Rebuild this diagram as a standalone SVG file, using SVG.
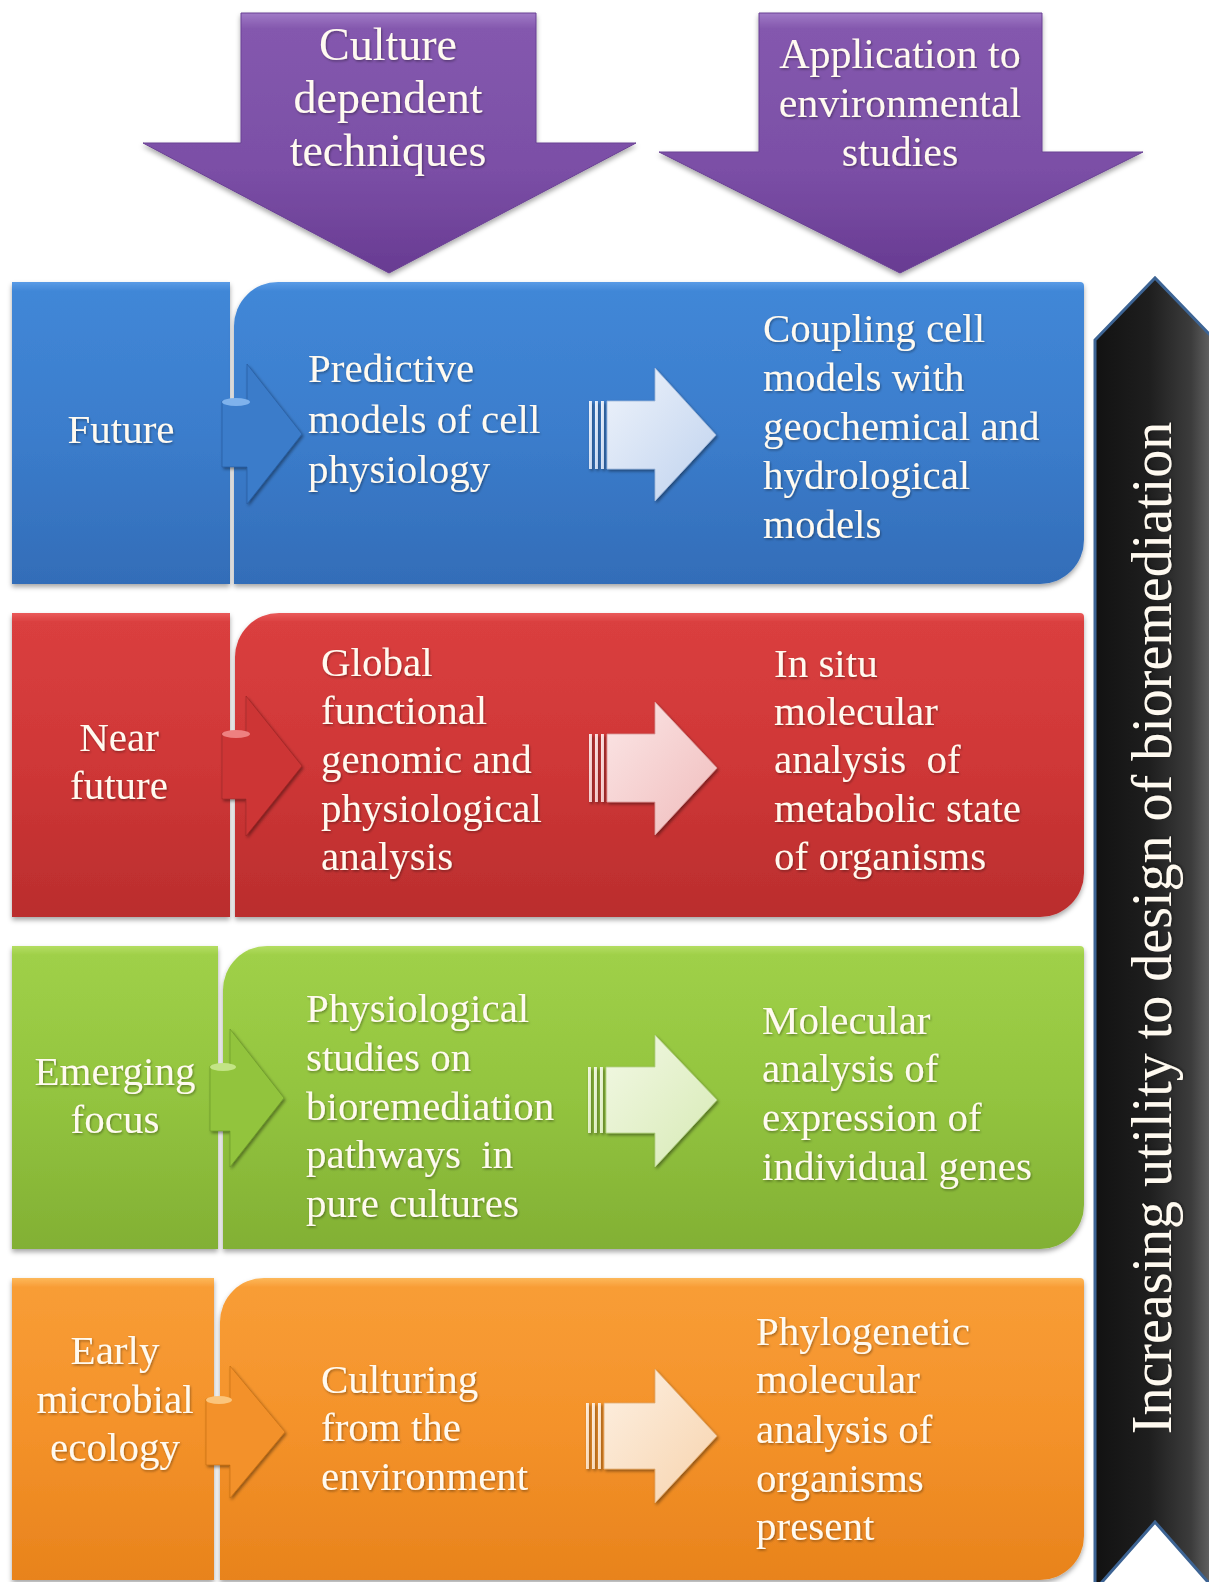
<svg xmlns="http://www.w3.org/2000/svg" width="1209" height="1582" viewBox="0 0 1209 1582">
  <style>
    .lbl { font-family: "Liberation Serif", "Times New Roman", serif; font-size: 41px; fill: #fffaf0; filter: url(#ts); }
    .mid { text-anchor: middle; }
    .hdr { font-family: "Liberation Serif", "Times New Roman", serif; fill: #fffaf0; text-anchor: middle; filter: url(#ts); }
    .pre { white-space: pre; }
    .box { filter: url(#ds); }
    .chev { filter: url(#cs); }
    .bar { stroke: none; }
  </style>
  <defs>
    <filter id="ds" x="-5%" y="-5%" width="110%" height="115%">
      <feDropShadow dx="0" dy="3" stdDeviation="2.5" flood-color="#000" flood-opacity="0.35"/>
    </filter>
    <filter id="cs" x="-20%" y="-20%" width="140%" height="140%">
      <feDropShadow dx="1.5" dy="2" stdDeviation="1.5" flood-color="#000" flood-opacity="0.4"/>
    </filter>
    <filter id="ts" x="-5%" y="-20%" width="110%" height="140%">
      <feDropShadow dx="1" dy="1.5" stdDeviation="0.8" flood-color="#000" flood-opacity="0.35"/>
    </filter>
    <linearGradient id="gPurple" x1="0" y1="0" x2="0" y2="1">
      <stop offset="0" stop-color="#a07ac6"/>
      <stop offset="0.06" stop-color="#8458ae"/>
      <stop offset="0.6" stop-color="#7b4fa6"/>
      <stop offset="1" stop-color="#683b92"/>
    </linearGradient>
    <linearGradient id="gBlue" x1="0" y1="0" x2="0" y2="1">
      <stop offset="0" stop-color="#5a9be6"/>
      <stop offset="0.03" stop-color="#4187d7"/>
      <stop offset="0.5" stop-color="#3b7dcc"/>
      <stop offset="1" stop-color="#336db8"/>
    </linearGradient>
    <linearGradient id="gRed" x1="0" y1="0" x2="0" y2="1">
      <stop offset="0" stop-color="#ea5a5a"/>
      <stop offset="0.03" stop-color="#da3f3f"/>
      <stop offset="0.5" stop-color="#cf3737"/>
      <stop offset="1" stop-color="#ba2d2d"/>
    </linearGradient>
    <linearGradient id="gGreen" x1="0" y1="0" x2="0" y2="1">
      <stop offset="0" stop-color="#b4dd62"/>
      <stop offset="0.03" stop-color="#9fd048"/>
      <stop offset="0.5" stop-color="#93c43f"/>
      <stop offset="1" stop-color="#82b034"/>
    </linearGradient>
    <linearGradient id="gOrange" x1="0" y1="0" x2="0" y2="1">
      <stop offset="0" stop-color="#fdb85a"/>
      <stop offset="0.03" stop-color="#f89d36"/>
      <stop offset="0.5" stop-color="#f4922a"/>
      <stop offset="1" stop-color="#e8831c"/>
    </linearGradient>
    <linearGradient id="gDark" gradientUnits="userSpaceOnUse" x1="1095" y1="0" x2="1215" y2="0">
      <stop offset="0" stop-color="#121212"/>
      <stop offset="0.45" stop-color="#1e1e1e"/>
      <stop offset="0.8" stop-color="#3c3c3c"/>
      <stop offset="1" stop-color="#6a6a6a"/>
    </linearGradient>
    <linearGradient id="lBlue" x1="0" y1="0" x2="1" y2="1">
      <stop offset="0" stop-color="#eef3fb"/>
      <stop offset="1" stop-color="#bfd2ee"/>
    </linearGradient>
    <linearGradient id="lRed" x1="0" y1="0" x2="1" y2="1">
      <stop offset="0" stop-color="#fbe6e6"/>
      <stop offset="1" stop-color="#f0bcbc"/>
    </linearGradient>
    <linearGradient id="lGreen" x1="0" y1="0" x2="1" y2="1">
      <stop offset="0" stop-color="#f2f8e4"/>
      <stop offset="1" stop-color="#d7eab5"/>
    </linearGradient>
    <linearGradient id="lOrange" x1="0" y1="0" x2="1" y2="1">
      <stop offset="0" stop-color="#fdf0e2"/>
      <stop offset="1" stop-color="#f7d3ad"/>
    </linearGradient>
  </defs>

  <rect width="1209" height="1582" fill="#ffffff"/>

  <!-- header arrows -->
  <g id="node-culture-dependent">
    <path class="box" d="M241,13 H536 V143 H636 L389,273 L143,143 H241 Z" fill="url(#gPurple)" stroke="#6a4194" stroke-width="1"/>
    <text class="hdr" font-size="46" x="388" y="60">Culture</text>
    <text class="hdr" font-size="46" x="388" y="113">dependent</text>
    <text class="hdr" font-size="46" x="388" y="166">techniques</text>
  </g>
  <g id="node-application">
    <path class="box" d="M759,13 H1042 V152 H1143 L900,273 L659,152 H759 Z" fill="url(#gPurple)" stroke="#6a4194" stroke-width="1"/>
    <text class="hdr" font-size="42" x="900" y="68">Application to</text>
    <text class="hdr" font-size="42" x="900" y="117">environmental</text>
    <text class="hdr" font-size="42" x="900" y="166">studies</text>
  </g>

  <!-- vertical scale arrow -->
  <g id="node-utility">
    <path d="M1095,340 L1155,278 L1215,340 V1590 L1155,1522 L1095,1590 Z" fill="url(#gDark)" stroke="#3d6494" stroke-width="3"/>
    <text class="hdr" font-size="56" transform="translate(1171,928) rotate(-90)" x="0" y="0">Increasing utility to design of bioremediation</text>
  </g>

  <!-- row: Future -->
  <g id="node-future">
    <rect class="box" x="12" y="282" width="218" height="302" fill="url(#gBlue)"/>
    <text class="lbl mid" x="121" y="443">Future</text>
  </g>
  <g id="node-future-detail">
    <path class="box" d="M234,326 A44,44 0 0 1 278,282 H1080 Q1084,282 1084,286 V540 A44,44 0 0 1 1040,584 H234 Z" fill="url(#gBlue)"/>
    <text class="lbl" x="308" y="382">Predictive</text>
    <text class="lbl" x="308" y="433">models of cell</text>
    <text class="lbl" x="308" y="483">physiology</text>
    <text class="lbl" x="763" y="342">Coupling cell</text>
    <text class="lbl" x="763" y="391">models with</text>
    <text class="lbl" x="763" y="440">geochemical and</text>
    <text class="lbl" x="763" y="489">hydrological</text>
    <text class="lbl" x="763" y="538">models</text>
  </g>

  <!-- row: Near future -->
  <g id="node-near-future">
    <rect class="box" x="12" y="613" width="218" height="304" fill="url(#gRed)"/>
    <text class="lbl mid" x="119" y="751">Near</text>
    <text class="lbl mid" x="119" y="799">future</text>
  </g>
  <g id="node-near-future-detail">
    <path class="box" d="M235,657 A44,44 0 0 1 279,613 H1080 Q1084,613 1084,617 V873 A44,44 0 0 1 1040,917 H235 Z" fill="url(#gRed)"/>
    <text class="lbl" x="321" y="676">Global</text>
    <text class="lbl" x="321" y="724">functional</text>
    <text class="lbl" x="321" y="773">genomic and</text>
    <text class="lbl" x="321" y="822">physiological</text>
    <text class="lbl" x="321" y="870">analysis</text>
    <text class="lbl" x="774" y="677">In situ</text>
    <text class="lbl" x="774" y="725">molecular</text>
    <text class="lbl pre" x="774" y="773">analysis  of</text>
    <text class="lbl" x="774" y="822">metabolic state</text>
    <text class="lbl" x="774" y="870">of organisms</text>
  </g>

  <!-- row: Emerging focus -->
  <g id="node-emerging">
    <rect class="box" x="12" y="946" width="206" height="303" fill="url(#gGreen)"/>
    <text class="lbl mid" x="115" y="1085">Emerging</text>
    <text class="lbl mid" x="115" y="1133">focus</text>
  </g>
  <g id="node-emerging-detail">
    <path class="box" d="M223,990 A44,44 0 0 1 267,946 H1080 Q1084,946 1084,950 V1205 A44,44 0 0 1 1040,1249 H223 Z" fill="url(#gGreen)"/>
    <text class="lbl" x="306" y="1022">Physiological</text>
    <text class="lbl" x="306" y="1071">studies on</text>
    <text class="lbl" x="306" y="1120">bioremediation</text>
    <text class="lbl pre" x="306" y="1168">pathways  in</text>
    <text class="lbl" x="306" y="1217">pure cultures</text>
    <text class="lbl" x="762" y="1034">Molecular</text>
    <text class="lbl" x="762" y="1082">analysis of</text>
    <text class="lbl" x="762" y="1131">expression of</text>
    <text class="lbl" x="762" y="1180">individual genes</text>
  </g>

  <!-- row: Early microbial ecology -->
  <g id="node-early">
    <rect class="box" x="12" y="1278" width="202" height="302" fill="url(#gOrange)"/>
    <text class="lbl mid" x="115" y="1364">Early</text>
    <text class="lbl mid" x="115" y="1413">microbial</text>
    <text class="lbl mid" x="115" y="1461">ecology</text>
  </g>
  <g id="node-early-detail">
    <path class="box" d="M220,1322 A44,44 0 0 1 264,1278 H1080 Q1084,1278 1084,1282 V1536 A44,44 0 0 1 1040,1580 H220 Z" fill="url(#gOrange)"/>
    <text class="lbl" x="321" y="1393">Culturing</text>
    <text class="lbl" x="321" y="1441">from the</text>
    <text class="lbl" x="321" y="1490">environment</text>
    <text class="lbl" x="756" y="1345">Phylogenetic</text>
    <text class="lbl" x="756" y="1393">molecular</text>
    <text class="lbl" x="756" y="1443">analysis of</text>
    <text class="lbl" x="756" y="1492">organisms</text>
    <text class="lbl" x="756" y="1540">present</text>
  </g>

  <!-- connectors: chevrons from period label into its panel, block arrows between columns -->
  <g id="connectors">
    <!-- Future -->
    <path class="chev" d="M222,401 H247 V364 L302,434 L247,504 V467 H222 Z" fill="#3a7bca" stroke="#22518f" stroke-opacity="0.5" stroke-width="1"/>
    <ellipse cx="236" cy="402" rx="14" ry="4" fill="#7fb2ec"/>
    <!-- Near future -->
    <path class="chev" d="M222,733 H246 V696 L302,766 L246,836 V799 H222 Z" fill="#cd3636" stroke="#8e1f1f" stroke-opacity="0.5" stroke-width="1"/>
    <ellipse cx="236" cy="734" rx="14" ry="4" fill="#ee8080"/>
    <!-- Emerging focus -->
    <path class="chev" d="M210,1066 H230 V1029 L284,1098 L230,1167 V1131 H210 Z" fill="#92c43e" stroke="#5d8a22" stroke-opacity="0.5" stroke-width="1"/>
    <ellipse cx="223" cy="1067" rx="13" ry="4" fill="#c3e486"/>
    <!-- Early microbial ecology -->
    <path class="chev" d="M206,1399 H230 V1366 L285,1432 L230,1498 V1465 H206 Z" fill="#f3912a" stroke="#b8650e" stroke-opacity="0.5" stroke-width="1"/>
    <ellipse cx="219" cy="1400" rx="13" ry="4" fill="#fbc57c"/>

    <!-- block arrows -->
    <g class="chev" fill="url(#lBlue)" stroke="#9fb6d8" stroke-width="0.8">
      <rect class="bar" x="589" y="401" width="3" height="68"/>
      <rect class="bar" x="595" y="401" width="3" height="68"/>
      <rect class="bar" x="601" y="401" width="3" height="68"/>
      <path d="M607,401 H655 V368 L716,435 L655,501 V469 H607 Z"/>
    </g>
    <g class="chev" fill="url(#lRed)" stroke="#d79a9a" stroke-width="0.8">
      <rect class="bar" x="589" y="734" width="3" height="68"/>
      <rect class="bar" x="595" y="734" width="3" height="68"/>
      <rect class="bar" x="601" y="734" width="3" height="68"/>
      <path d="M607,734 H655 V702 L717,768 L655,835 V802 H607 Z"/>
    </g>
    <g class="chev" fill="url(#lGreen)" stroke="#b2cf86" stroke-width="0.8">
      <rect class="bar" x="588" y="1067" width="3" height="66"/>
      <rect class="bar" x="594" y="1067" width="3" height="66"/>
      <rect class="bar" x="600" y="1067" width="3" height="66"/>
      <path d="M606,1067 H655 V1035 L717,1100 L655,1167 V1133 H606 Z"/>
    </g>
    <g class="chev" fill="url(#lOrange)" stroke="#e0ac74" stroke-width="0.8">
      <rect class="bar" x="586" y="1403" width="3" height="66"/>
      <rect class="bar" x="592" y="1403" width="3" height="66"/>
      <rect class="bar" x="598" y="1403" width="3" height="66"/>
      <path d="M604,1403 H655 V1369 L717,1436 L655,1503 V1469 H604 Z"/>
    </g>
  </g>
</svg>
